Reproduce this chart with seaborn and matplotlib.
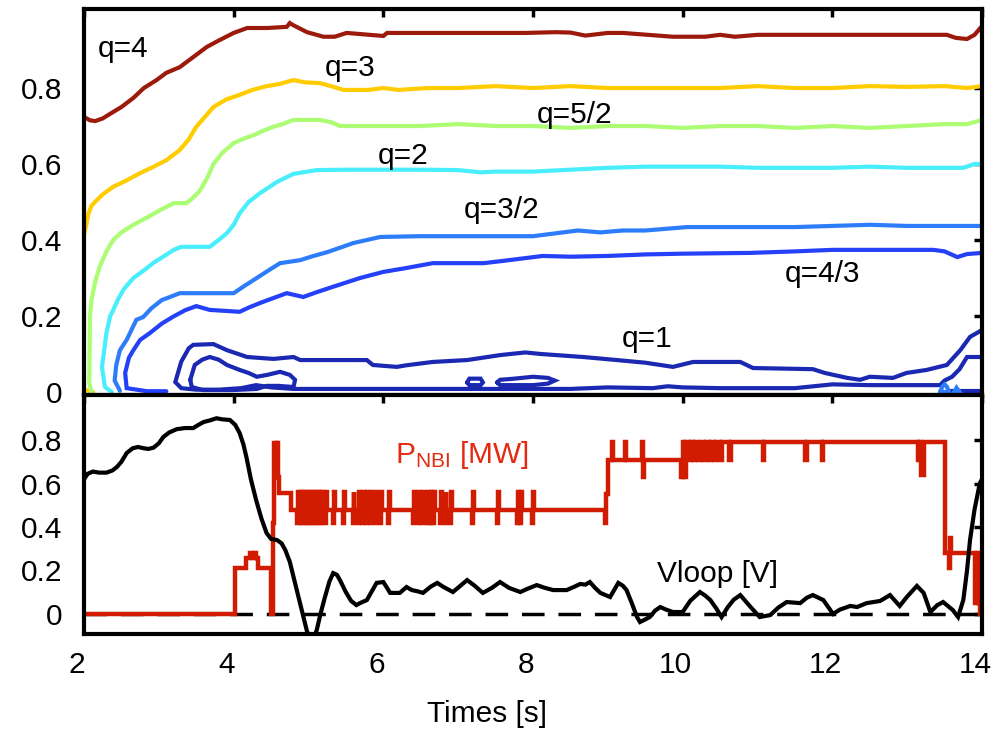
import numpy as np
import pandas as pd
import matplotlib
matplotlib.use("Agg")
import matplotlib.pyplot as plt
from matplotlib.transforms import ScaledTranslation
import seaborn as sns

# ---------------- data: q-contours (time [s], normalized radius) ----------------
q4_t = [2.0, 2.08, 2.15, 2.25, 2.39, 2.5, 2.66, 2.8, 2.97, 3.1, 3.28, 3.45, 3.64, 3.8, 4.0, 4.18, 4.45,
        4.71, 4.75, 4.8, 4.98, 5.2, 5.35, 5.51, 6.0, 6.05, 6.3, 6.8, 7.4, 7.9, 8.3, 8.5, 8.7, 9.0, 9.2,
        9.87, 10.3, 10.5, 10.7, 11.0, 12.0, 13.0, 13.53, 13.65, 13.8, 13.9, 14.0]
q4_r = [0.724, 0.715, 0.713, 0.72, 0.737, 0.75, 0.774, 0.80, 0.821, 0.84, 0.855, 0.88, 0.908, 0.925, 0.945,
        0.958, 0.958, 0.961, 0.971, 0.965, 0.947, 0.935, 0.935, 0.945, 0.937, 0.945, 0.945, 0.945, 0.945,
        0.945, 0.947, 0.946, 0.938, 0.945, 0.945, 0.935, 0.935, 0.94, 0.935, 0.94, 0.94, 0.94, 0.94, 0.932,
        0.929, 0.94, 0.963]

q3_t = [2.0, 2.03, 2.06, 2.1, 2.17, 2.25, 2.39, 2.55, 2.75, 2.9, 3.1, 3.28, 3.4, 3.5, 3.62, 3.73, 3.9, 4.08,
        4.25, 4.44, 4.6, 4.8, 4.95, 5.15, 5.3, 5.47, 5.8, 6.0, 6.2, 6.6, 7.0, 7.5, 8.0, 8.5, 9.0, 9.5, 10.0,
        10.5, 11.0, 11.5, 12.0, 12.5, 13.0, 13.5, 13.8, 14.0]
q3_r = [0.413, 0.44, 0.47, 0.49, 0.505, 0.52, 0.54, 0.555, 0.576, 0.59, 0.61, 0.637, 0.665, 0.698, 0.725,
        0.75, 0.77, 0.782, 0.795, 0.805, 0.81, 0.821, 0.815, 0.813, 0.805, 0.795, 0.795, 0.80, 0.795, 0.80,
        0.80, 0.805, 0.80, 0.805, 0.80, 0.80, 0.80, 0.80, 0.805, 0.80, 0.80, 0.805, 0.803, 0.805, 0.80, 0.805]
q3_corner_t = [2.0, 2.06, 2.12]
q3_corner_r = [0.006, 0.003, 0.0]

q52_t = [2.1, 2.07, 2.075, 2.08, 2.1, 2.15, 2.21, 2.3, 2.39, 2.5, 2.66, 2.85, 3.02, 3.2, 3.37, 3.45, 3.55,
         3.65, 3.73, 3.85, 4.0, 4.15, 4.27, 4.4, 4.53, 4.65, 4.8, 5.15, 5.3, 5.42, 6.0, 6.5, 7.0, 7.5, 8.0,
         8.5, 9.0, 9.5, 10.0, 10.5, 11.0, 11.5, 12.0, 12.5, 13.0, 13.5, 13.8, 14.0]
q52_r = [0.0, 0.024, 0.11, 0.2, 0.242, 0.29, 0.33, 0.37, 0.4, 0.42, 0.44, 0.46, 0.479, 0.497, 0.497, 0.51,
         0.53, 0.565, 0.6, 0.63, 0.655, 0.668, 0.676, 0.688, 0.698, 0.705, 0.716, 0.716, 0.71, 0.70, 0.70,
         0.70, 0.705, 0.70, 0.70, 0.695, 0.70, 0.70, 0.695, 0.70, 0.70, 0.695, 0.70, 0.695, 0.70, 0.705,
         0.705, 0.716]

q2_t = [2.37, 2.28, 2.24, 2.27, 2.3, 2.35, 2.39, 2.45, 2.53, 2.66, 2.8, 2.93, 3.05, 3.2, 3.3, 3.5, 3.68,
        3.8, 3.91, 4.0, 4.08, 4.2, 4.35, 4.58, 4.8, 5.11, 5.5, 6.0, 6.5, 7.0, 7.3, 7.5, 8.0, 8.5, 9.0, 9.5,
        10.0, 10.5, 11.0, 11.5, 12.0, 12.5, 13.0, 13.5, 13.75, 13.9, 14.0]
q2_r = [0.0, 0.013, 0.066, 0.11, 0.155, 0.2, 0.215, 0.242, 0.27, 0.30, 0.32, 0.34, 0.355, 0.374, 0.382,
        0.382, 0.382, 0.40, 0.418, 0.44, 0.47, 0.50, 0.523, 0.553, 0.574, 0.584, 0.585, 0.585, 0.585, 0.584,
        0.578, 0.58, 0.58, 0.585, 0.59, 0.593, 0.593, 0.593, 0.59, 0.59, 0.59, 0.593, 0.59, 0.59, 0.59,
        0.6, 0.6]

q32_t = [2.48, 2.41, 2.43, 2.48, 2.57, 2.7, 2.79, 2.9, 3.04, 3.15, 3.28, 3.5, 4.0, 4.15, 4.27, 4.45, 4.62,
         4.89, 5.05, 5.25, 5.6, 5.96, 6.5, 7.0, 7.5, 8.0, 8.4, 8.6, 8.9, 9.2, 9.5, 10.06, 10.5, 11.0, 11.5,
         12.0, 12.5, 13.0, 13.5, 14.0]
q32_r = [0.003, 0.03, 0.07, 0.11, 0.137, 0.19, 0.197, 0.22, 0.242, 0.25, 0.26, 0.26, 0.26, 0.28, 0.295,
         0.318, 0.339, 0.347, 0.357, 0.368, 0.392, 0.408, 0.41, 0.41, 0.41, 0.41, 0.42, 0.425, 0.42, 0.425,
         0.425, 0.434, 0.434, 0.434, 0.434, 0.437, 0.44, 0.437, 0.437, 0.437]

q43_t = [3.1, 2.84, 2.57, 2.55, 2.6, 2.66, 2.75, 2.88, 3.04, 3.19, 3.35, 3.5, 3.68, 4.08, 4.2, 4.35, 4.5,
         4.71, 4.93, 5.1, 5.33, 5.69, 6.0, 6.3, 6.66, 7.34, 7.6, 8.13, 8.5, 9.0, 9.5, 10.0, 10.9, 11.5, 12.0,
         12.5, 13.0, 13.35, 13.5, 13.67, 13.8, 14.0]
q43_r = [0.002, 0.002, 0.01, 0.05, 0.09, 0.11, 0.137, 0.155, 0.18, 0.198, 0.215, 0.226, 0.216, 0.211,
         0.222, 0.234, 0.245, 0.26, 0.25, 0.262, 0.277, 0.3, 0.316, 0.326, 0.339, 0.339, 0.345, 0.358, 0.356,
         0.358, 0.362, 0.364, 0.366, 0.37, 0.374, 0.374, 0.374, 0.374, 0.37, 0.355, 0.363, 0.366]

q1_t = [14.0, 13.8, 13.7, 13.6, 13.5, 13.44, 13.0, 12.5, 12.0, 11.9, 11.5, 10.5, 10.0, 9.8, 9.6, 9.0, 8.5,
        7.5, 6.5, 5.5, 4.8, 4.5, 4.3, 4.1, 3.8, 3.5, 3.3, 3.22, 3.3, 3.4, 3.46, 3.73, 3.91, 4.18, 4.53, 4.8,
        4.89, 5.5, 5.78, 5.86, 6.18, 6.3, 6.66, 7.12, 7.56, 7.7, 7.9, 8.1, 8.67, 9.12, 9.5, 9.87, 10.14,
        10.77, 10.94, 11.74, 11.9, 12.2, 12.37, 12.5, 12.81, 12.99, 13.26, 13.53, 13.71, 13.84, 14.0]
q1_r = [0.092, 0.092, 0.06, 0.04, 0.03, 0.018, 0.018, 0.018, 0.02, 0.018, 0.01, 0.01, 0.012, 0.015, 0.01,
        0.012, 0.008, 0.008, 0.008, 0.008, 0.008, 0.012, 0.018, 0.01, 0.006, 0.006, 0.01, 0.026, 0.08,
        0.115, 0.124, 0.126, 0.11, 0.092, 0.087, 0.092, 0.084, 0.084, 0.084, 0.071, 0.066, 0.07, 0.079,
        0.084, 0.097, 0.1, 0.104, 0.1, 0.092, 0.084, 0.077, 0.066, 0.079, 0.079, 0.063, 0.06, 0.05, 0.037,
        0.032, 0.04, 0.037, 0.05, 0.058, 0.071, 0.11, 0.145, 0.163]
q1_inner_t = [3.42, 3.48, 3.58, 3.68, 3.8, 3.91, 4.08, 4.2, 4.31, 4.45, 4.62, 4.75, 4.82, 4.8, 4.6, 4.44,
              4.31, 3.99, 3.59, 3.44, 3.42]
q1_inner_r = [0.032, 0.071, 0.085, 0.092, 0.085, 0.071, 0.058, 0.05, 0.04, 0.045, 0.053, 0.045, 0.032,
              0.013, 0.016, 0.016, 0.008, 0.005, 0.005, 0.013, 0.032]
q1_loopA_t = [7.12, 7.15, 7.3, 7.33, 7.3, 7.15, 7.12]
q1_loopA_r = [0.025, 0.035, 0.035, 0.025, 0.018, 0.018, 0.025]
q1_loopB_t = [7.52, 7.56, 7.75, 8.0, 8.2, 8.29, 8.2, 8.0, 7.75, 7.56, 7.52]
q1_loopB_r = [0.025, 0.032, 0.035, 0.04, 0.037, 0.03, 0.022, 0.018, 0.018, 0.018, 0.025]
q1_edge_t = [13.57, 14.0]
q1_edge_r = [0.003, 0.003]
blob1_t = [13.44, 13.47, 13.5, 13.53, 13.56, 13.44]
blob1_r = [0.0, 0.014, 0.02, 0.014, 0.0, 0.0]
blob2_t = [13.63, 13.66, 13.7, 13.63]
blob2_r = [0.0, 0.011, 0.0, 0.0]

# ---------------- data: loop voltage ----------------
vloop_t = [2.0, 2.05, 2.12, 2.2, 2.3, 2.38, 2.44, 2.5, 2.57, 2.65, 2.72, 2.8, 2.86, 2.93, 3.0, 3.06, 3.14,
           3.24, 3.35, 3.46, 3.53, 3.6, 3.68, 3.77, 3.85, 3.95, 4.02, 4.08, 4.13, 4.17, 4.23, 4.3, 4.37,
           4.44, 4.5, 4.58, 4.64, 4.69, 4.75, 4.8, 4.87, 4.93, 4.98, 5.02, 5.07, 5.11, 5.16, 5.22, 5.28,
           5.33, 5.38, 5.42, 5.5, 5.57, 5.64, 5.7, 5.78, 5.84, 5.91, 6.0, 6.05, 6.09, 6.22, 6.31, 6.38,
           6.45, 6.53, 6.63, 6.72, 6.8, 6.93, 7.03, 7.12, 7.22, 7.33, 7.45, 7.56, 7.68, 7.83, 7.92, 8.05,
           8.16, 8.27, 8.45, 8.55, 8.63, 8.7, 8.76, 8.83, 8.9, 9.03, 9.14, 9.2, 9.25, 9.32, 9.39, 9.43, 9.5,
           9.56, 9.63, 9.7, 9.78, 9.87, 10.0, 10.1, 10.23, 10.3, 10.37, 10.45, 10.52, 10.6, 10.68, 10.77,
           10.9, 11.03, 11.17, 11.28, 11.39, 11.57, 11.66, 11.74, 11.88, 11.95, 12.01, 12.1, 12.24, 12.33,
           12.46, 12.64, 12.77, 12.9, 13.0, 13.13, 13.22, 13.31, 13.4, 13.48, 13.61, 13.68, 13.75, 13.8,
           13.84, 13.9, 13.97, 14.0]
vloop_v = [0.62, 0.645, 0.655, 0.65, 0.65, 0.66, 0.676, 0.70, 0.74, 0.762, 0.768, 0.762, 0.759, 0.765,
           0.785, 0.814, 0.835, 0.85, 0.855, 0.855, 0.87, 0.883, 0.89, 0.9, 0.895, 0.892, 0.87, 0.832,
           0.78, 0.722, 0.62, 0.524, 0.44, 0.372, 0.345, 0.34, 0.325, 0.294, 0.24, 0.17, 0.07, -0.014,
           -0.08, -0.106, -0.11, -0.074, 0.0, 0.078, 0.15, 0.188, 0.18, 0.156, 0.1, 0.06, 0.041, 0.052,
           0.064, 0.1, 0.143, 0.147, 0.12, 0.097, 0.097, 0.124, 0.11, 0.105, 0.097, 0.125, 0.143, 0.125,
           0.101, 0.13, 0.156, 0.13, 0.097, 0.12, 0.147, 0.12, 0.101, 0.115, 0.133, 0.12, 0.11, 0.11,
           0.125, 0.138, 0.135, 0.147, 0.12, 0.097, 0.078, 0.143, 0.13, 0.11, 0.05, -0.014, -0.037,
           -0.025, -0.014, 0.015, 0.032, 0.02, 0.009, 0.009, 0.06, 0.101, 0.085, 0.064, 0.025, -0.014,
           0.03, 0.065, 0.087, 0.035, -0.014, -0.005, 0.03, 0.055, 0.05, 0.075, 0.087, 0.064, 0.03, 0.0,
           0.02, 0.037, 0.032, 0.05, 0.06, 0.087, 0.037, 0.08, 0.129, 0.097, 0.009, 0.04, 0.055, 0.018,
           -0.014, 0.064, 0.2, 0.34, 0.48, 0.6, 0.62]

# ---------------- data: NBI power (step signal, value holds until next time) ----------------
nbi_t = [2.0, 4.02, 4.17, 4.22, 4.25, 4.27, 4.30, 4.32, 4.50, 4.53, 4.545, 4.56, 4.575, 4.59, 4.60, 4.76,
         4.85, 4.862, 4.874, 4.89, 4.902, 4.914, 4.93, 4.942, 4.954, 4.97, 4.982, 4.994, 5.01, 5.022, 5.034,
         5.05, 5.062, 5.074, 5.09, 5.102, 5.114, 5.13, 5.142, 5.154, 5.17, 5.182, 5.194, 5.22, 5.232, 5.244,
         5.33, 5.342, 5.354, 5.46, 5.472, 5.484, 5.59, 5.602, 5.614, 5.66, 5.672, 5.684, 5.72, 5.732, 5.744,
         5.77, 5.782, 5.794, 5.82, 5.832, 5.844, 5.89, 5.902, 5.914, 5.96, 5.972, 5.984, 6.06, 6.072, 6.084,
         6.40, 6.412, 6.424, 6.46, 6.472, 6.484, 6.52, 6.532, 6.544, 6.58, 6.592, 6.604, 6.62, 6.632, 6.644,
         6.66, 6.672, 6.684, 6.76, 6.772, 6.784, 6.82, 6.832, 6.844, 6.89, 6.902, 6.914, 7.19, 7.202, 7.214,
         7.52, 7.532, 7.544, 7.79, 7.802, 7.814, 7.83, 7.842, 7.854, 7.99, 8.002, 8.014,
         8.96, 8.98, 9.00, 9.06, 9.075, 9.23, 9.245, 9.46, 9.47, 9.485, 9.98, 10.0, 10.02, 10.05, 10.08,
         10.11, 10.14, 10.17, 10.21, 10.24, 10.28, 10.31, 10.35, 10.38, 10.42, 10.45, 10.50, 10.53, 10.62,
         10.65, 11.07, 11.09, 11.64, 11.66, 11.86, 11.88, 13.14, 13.16, 13.19, 13.22, 13.50, 13.56, 13.575,
         13.59, 13.91, 13.935, 13.95, 13.975, 14.0]
nbi_p = [0.0, 0.21, 0.257, 0.28, 0.257, 0.28, 0.257, 0.21, 0.0, 0.418, 0.786, 0.63, 0.786, 0.63, 0.556, 0.478,
         0.418, 0.561, 0.478, 0.418, 0.561, 0.478, 0.418, 0.561, 0.478, 0.418, 0.561, 0.478, 0.418, 0.561,
         0.478, 0.418, 0.561, 0.478, 0.418, 0.561, 0.478, 0.418, 0.561, 0.478, 0.418, 0.561, 0.478, 0.418,
         0.561, 0.478, 0.418, 0.561, 0.478, 0.418, 0.561, 0.478, 0.418, 0.561, 0.478, 0.418, 0.561, 0.478,
         0.418, 0.561, 0.478, 0.418, 0.561, 0.478, 0.418, 0.561, 0.478, 0.418, 0.561, 0.478, 0.418, 0.561,
         0.478, 0.418, 0.561, 0.478, 0.418, 0.561, 0.478, 0.418, 0.561, 0.478, 0.418, 0.561, 0.478, 0.418,
         0.561, 0.478, 0.418, 0.561, 0.478, 0.418, 0.561, 0.478, 0.418, 0.561, 0.478, 0.418, 0.561, 0.478,
         0.418, 0.561, 0.478, 0.418, 0.561, 0.478, 0.418, 0.561, 0.478, 0.418, 0.561, 0.478, 0.418, 0.561,
         0.478, 0.418, 0.561, 0.478,
         0.418, 0.55, 0.708, 0.79, 0.708, 0.79, 0.708, 0.79, 0.63, 0.708, 0.63, 0.79, 0.63, 0.79, 0.708,
         0.79, 0.708, 0.79, 0.708, 0.79, 0.708, 0.79, 0.708, 0.79, 0.708, 0.79, 0.708, 0.79, 0.708,
         0.79, 0.708, 0.79, 0.708, 0.79, 0.708, 0.79, 0.708, 0.79, 0.64, 0.79, 0.28, 0.21, 0.35,
         0.28, 0.05, 0.28, 0.05, 0.0, 0.0]

# ---------------- labels ----------------
q_labels = ["q=4", "q=3", "q=5/2", "q=2", "q=3/2", "q=4/3", "q=1"]
q_label_t = [2.19, 5.22, 8.05, 5.93, 7.07, 11.37, 9.19]
q_label_r = [0.882, 0.832, 0.708, 0.60, 0.458, 0.29, 0.118]
x_ticks = [2, 4, 6, 8, 10, 12, 14]
y_ticks = [0, 0.2, 0.4, 0.6, 0.8]
y_ticklabels = ["0", "0.2", "0.4", "0.6", "0.8"]

# ---------------- style ----------------
sns.set_style("white")
plt.rcParams["font.family"] = ["Liberation Sans", "DejaVu Sans"]
plt.rcParams["mathtext.fontset"] = "custom"
plt.rcParams["mathtext.rm"] = "Liberation Sans"
plt.rcParams["mathtext.default"] = "regular"
plt.rcParams["text.color"] = "black"
plt.rcParams["axes.labelcolor"] = "black"

FS = 21.5
LW = 3.0
C_Q = {"q4": "#9c1a0c", "q3": "#ffcc00", "q52": "#acfc74", "q2": "#48eefc",
       "q32": "#2d7dfb", "q43": "#2440f8", "q1": "#1b29b2"}
RED = "#d21c02"

fig = plt.figure(figsize=(10.05, 7.33), dpi=100)
L, W = 84 / 1005, 898 / 1005
ax1 = fig.add_axes([L, 1 - 395 / 733, W, 386 / 733])
ax2 = fig.add_axes([L, 1 - 634 / 733, W, 239 / 733])


def line(ax, x, y, color, lw=LW, **kw):
    sns.lineplot(x=x, y=y, ax=ax, sort=False, estimator=None, color=color, lw=lw,
                 solid_joinstyle="miter", **kw)


# top panel: q contours
line(ax1, q4_t, q4_r, C_Q["q4"])
line(ax1, q3_t, q3_r, C_Q["q3"])
line(ax1, q3_corner_t, q3_corner_r, C_Q["q3"])
line(ax1, q52_t, q52_r, C_Q["q52"])
line(ax1, q2_t, q2_r, C_Q["q2"])
line(ax1, q32_t, q32_r, C_Q["q32"])
line(ax1, q43_t, q43_r, C_Q["q43"])
line(ax1, q1_t, q1_r, C_Q["q1"])
line(ax1, q1_inner_t, q1_inner_r, C_Q["q1"])
line(ax1, q1_loopA_t, q1_loopA_r, C_Q["q1"])
line(ax1, q1_loopB_t, q1_loopB_r, C_Q["q1"])
line(ax1, q1_edge_t, q1_edge_r, C_Q["q1"])
line(ax1, blob1_t, blob1_r, C_Q["q32"])
line(ax1, blob2_t, blob2_r, C_Q["q32"])

for s, t, r in zip(q_labels, q_label_t, q_label_r):
    ax1.text(t, r, s, fontsize=FS, ha="left", va="baseline", color="black")

# bottom panel
ax2.axhline(0, color="black", lw=2.5, dashes=(6.5, 4.0), zorder=1)
line(ax2, nbi_t, nbi_p, RED, lw=3.2, drawstyle="steps-post")
line(ax2, vloop_t, vloop_v, "black", lw=3.0)
ax2.text(6.156, 0.694, r"P$_{NBI}$ [MW]", fontsize=FS, color="#e42a10", ha="left", va="baseline")
ax2.text(9.66, 0.147, "Vloop [V]", fontsize=FS, color="black", ha="left", va="baseline")

for ax in (ax1, ax2):
    ax.set_xlim(2, 14)
    ax.set_xticks(x_ticks)
    ax.set_yticks(y_ticks)
    ax.set_yticklabels(y_ticklabels)
    ax.set_xlabel("")
    ax.set_ylabel("")
    ax.tick_params(direction="in", top=True, right=True, length=6, width=2.5,
                   labelsize=FS, color="black", labelcolor="black")
    ax.tick_params(axis="y", pad=15.5)
    ax.tick_params(axis="x", pad=12.5)
    for sp in ax.spines.values():
        sp.set_linewidth(3.0)
        sp.set_color("black")
        sp.set_visible(True)
    ax.set_facecolor("white")

ax1.set_ylim(-0.008, 1.008)
ax2.set_ylim(-0.092, 1.007)
ax1.tick_params(axis="x", labelbottom=False)
ax2.set_xticklabels([str(v) for v in x_ticks])
shift = ScaledTranslation(-7 / 100, 0, fig.dpi_scale_trans)
for lab in ax2.get_xticklabels():
    lab.set_transform(lab.get_transform() + shift)

fig.text(427 / 1005, 1 - 722 / 733, "Times [s]", fontsize=FS, ha="left", va="baseline", color="black")

fig.savefig("out.png", dpi=100, facecolor="white")
